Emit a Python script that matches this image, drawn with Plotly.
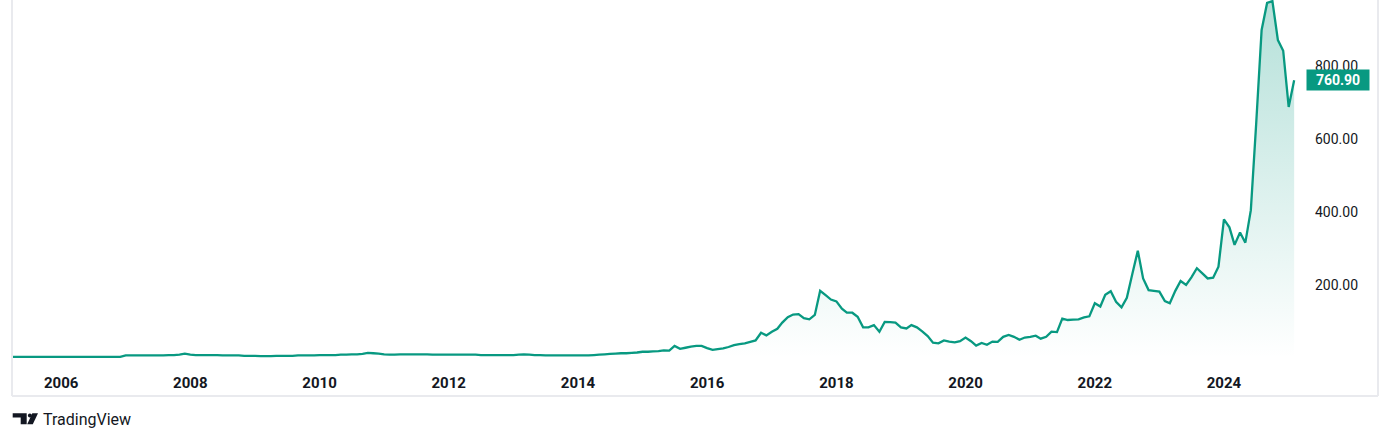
import pandas as pd
import plotly.graph_objects as go

# ---- data (monthly closes) ----
start_month = "2005-04-01"
v2005 = [3, 3, 3, 3, 3, 3, 3, 3, 3]
v2006 = [3, 3, 3, 3, 3, 3, 3, 3, 3, 3, 3, 3]
v2007 = [7, 7, 7, 7, 7, 7, 7, 7, 8, 8, 9, 12]
v2008 = [9, 8, 8, 8, 8, 8, 7, 7, 7, 7, 6, 6]
v2009 = [6, 5, 5, 5, 6, 6, 6, 6, 7, 7, 7, 7]
v2010 = [8, 8, 8, 8, 9, 9, 10, 10, 11, 14, 13, 12]
v2011 = [10, 9, 9, 10, 10, 10, 10, 10, 10, 9, 9, 9]
v2012 = [9, 9, 9, 9, 9, 9, 8, 8, 8, 8, 8, 8]
v2013 = [8, 9, 10, 9, 8, 8, 7, 7, 7, 7, 7, 7]
v2014 = [7, 7, 7, 8, 9, 10, 11, 12, 13, 13, 14, 15]
v2015 = [17, 17, 18, 19, 21, 20, 33, 25, 28, 31, 33, 33]
v2016 = [27, 22, 24, 26, 30, 35, 38, 40, 44, 48, 69, 62]
v2017 = [72, 80, 97, 112, 119, 120, 109, 106, 118, 184, 172, 160]
v2018 = [155, 135, 124, 124, 113, 84, 84, 90, 72, 99, 98, 97]
v2019 = [84, 81, 90, 84, 73, 60, 42, 40, 48, 45, 43, 46]
v2020 = [56, 46, 34, 41, 36, 45, 44, 58, 63, 58, 50, 56]
v2021 = [58, 61, 53, 58, 72, 71, 108, 104, 105, 106, 111, 114]
v2022 = [150, 141, 173, 183, 154, 139, 165, 230, 294, 218, 186, 184]
v2023 = [182, 156, 150, 184, 211, 200, 221, 246, 232, 218, 220, 250]
v2024 = [380, 358, 310, 344, 316, 405, 640, 899, 973, 978, 871, 842]
v2025 = [688, 760.90]

values = (v2005 + v2006 + v2007 + v2008 + v2009 + v2010 + v2011 + v2012 + v2013
          + v2014 + v2015 + v2016 + v2017 + v2018 + v2019 + v2020 + v2021
          + v2022 + v2023 + v2024 + v2025)
dates = pd.date_range(start_month, periods=len(values), freq="MS")

tick_years = ["2006", "2008", "2010", "2012", "2014", "2016", "2018", "2020", "2022", "2024"]
y_ticks = [200, 400, 600, 800]
last_value = values[-1]

# ---- style ----
GREEN = "#089981"
TEXT = "#131722"
FRAME = "#e9eaee"
W, H = 1392, 441
ML, MR, MT, MB = 12, 92, 0, 75
PW, PH = W - ML - MR, H - MT - MB


def px_x(px):
    return (px - ML) / PW


def px_y(py):
    return (MT + PH - py) / PH


fig = go.Figure()
fig.add_trace(go.Scatter(
    x=dates, y=values, mode="lines",
    line=dict(color=GREEN, width=2.3, simplify=False),
    fill="tozeroy",
    fillgradient=dict(type="vertical",
                      colorscale=[[0, "rgba(8,153,129,0.0)"], [1, "rgba(8,153,129,0.30)"]]),
    hoverinfo="skip", showlegend=False,
))

# frame
fr_bottom = px_y(396)
fr_right = px_x(1378)
shapes = [
    dict(type="line", xref="paper", yref="paper", x0=0, x1=0, y0=fr_bottom, y1=1,
         line=dict(color=FRAME, width=2)),
    dict(type="line", xref="paper", yref="paper", x0=0, x1=fr_right, y0=fr_bottom, y1=fr_bottom,
         line=dict(color=FRAME, width=2)),
    dict(type="line", xref="paper", yref="paper", x0=fr_right, x1=fr_right, y0=fr_bottom, y1=1,
         line=dict(color=FRAME, width=2)),
]


def poly(pts):
    return "M " + " L ".join(f"{px_x(a):.5f},{px_y(b):.5f}" for a, b in pts) + " Z"


# TradingView logo
shapes.append(dict(type="path", xref="paper", yref="paper",
                   path=poly([(12.7, 413.3), (26.7, 413.3), (26.7, 424.2), (20.7, 424.2),
                              (20.7, 417.6), (12.7, 417.6)]),
                   fillcolor=TEXT, line=dict(width=0)))
shapes.append(dict(type="circle", xref="paper", yref="paper",
                   x0=px_x(27.9), x1=px_x(31.9), y0=px_y(417.4), y1=px_y(413.4),
                   fillcolor=TEXT, line=dict(width=0)))
shapes.append(dict(type="path", xref="paper", yref="paper",
                   path=poly([(32.3, 413.3), (38.0, 413.3), (32.8, 424.2), (27.2, 424.2)]),
                   fillcolor=TEXT, line=dict(width=0)))

annotations = [
    dict(xref="paper", yref="paper", x=px_x(41), y=px_y(419.5), xanchor="left", yanchor="middle",
         text="TradingView", showarrow=False,
         font=dict(family="Roboto", size=16, color=TEXT)),
    dict(xref="paper", yref="y", x=px_x(1338), y=last_value, xanchor="center", yanchor="middle",
         text=f"<b>{last_value:.2f}</b>", showarrow=False, bgcolor=GREEN,
         width=60, height=18, borderpad=1,
         font=dict(family="Roboto", size=14, color="white")),
]

fig.update_layout(
    width=W, height=H,
    margin=dict(l=ML, r=MR, t=MT, b=MB, pad=0),
    paper_bgcolor="white", plot_bgcolor="white",
    shapes=shapes, annotations=annotations,
    xaxis=dict(
        type="date", range=["2005-03-29", "2025-03-06"],
        tickvals=[f"{y}-01-01" for y in tick_years], ticktext=tick_years,
        showgrid=False, zeroline=False, showline=False, ticks="",
        ticklabelstandoff=6,
        tickfont=dict(family="Roboto", size=15, color=TEXT, weight="bold"),
    ),
    yaxis=dict(
        side="right", range=[-22, 981],
        tickvals=y_ticks, tickformat=".2f",
        showgrid=False, zeroline=False, showline=False, ticks="",
        ticklabelstandoff=14,
        tickfont=dict(family="Roboto", size=14, color=TEXT),
    ),
)

fig.write_html("out.html", config={"displayModeBar": False},
               post_script="document.body.style.margin='0';")
